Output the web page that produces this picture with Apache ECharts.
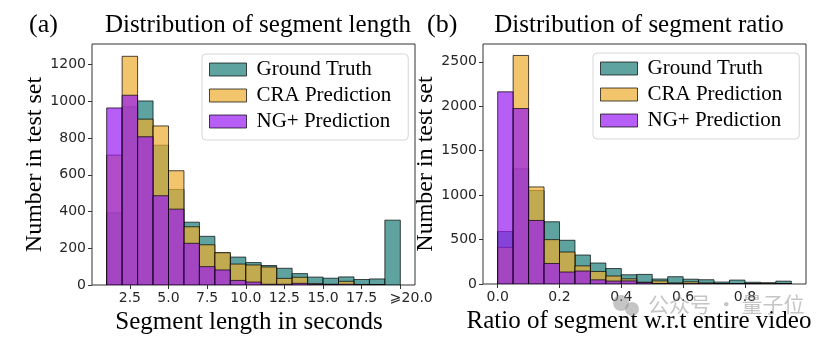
<!DOCTYPE html>
<html>
<head>
<meta charset="utf-8">
<script src="https://cdn.jsdelivr.net/npm/echarts@6/dist/echarts.min.js"></script>
<style>
html,body{margin:0;padding:0;background:#fff;}
#chart{width:832px;height:340px;}
</style>
</head>
<body>
<div id="chart"></div>
<script>
// ---------- data ----------
// (a) segment length histogram: bins [1,2),[2,3),...,[19,20) (last bin = ">=20")
const lenBinStart = [1,2,3,4,5,6,7,8,9,10,11,12,13,14,15,16,17,18,19];
const lenBinWidth = 1;
const lenGT  = [393, 970, 1002, 761, 520, 342, 265, 175, 152, 122, 106, 91, 62, 43, 37, 44, 30, 33, 353];
const lenCRA = [707, 1245, 903, 866, 622, 317, 219, 176, 114, 109, 98, 36, 42, 7, 4, 20, 3, 2, 0];
const lenNG  = [964, 1033, 807, 486, 413, 227, 100, 82, 25, 16, 4, 4, 9, 4, 2, 4, 1, 1, 0];

// (b) segment ratio histogram: bins of width 0.05 from 0 to 0.95
const ratioBinStart = [0,0.05,0.1,0.15,0.2,0.25,0.3,0.35,0.4,0.45,0.5,0.55,0.6,0.65,0.7,0.75,0.8,0.85,0.9];
const ratioBinWidth = 0.05;
const ratioGT  = [590, 1297, 1052, 700, 492, 326, 236, 174, 104, 108, 56, 82, 54, 48, 22, 44, 20, 13, 32];
const ratioCRA = [412, 2571, 1092, 499, 360, 204, 141, 90, 58, 20, 35, 12, 25, 12, 3, 5, 5, 10, 6];
const ratioNG  = [2162, 1974, 715, 231, 135, 146, 47, 33, 35, 15, 5, 3, 3, 2, 1, 2, 1, 1, 3];

// tick labels
const lenXTicks   = [2.5, 5, 7.5, 10, 12.5, 15, 17.5, 20];
const lenYTicks   = [0, 200, 400, 600, 800, 1000, 1200];
const ratioXTicks = [0, 0.2, 0.4, 0.6, 0.8];
const ratioYTicks = [0, 500, 1000, 1500, 2000, 2500];

const seriesNames = ['Ground Truth', 'CRA Prediction', 'NG+ Prediction'];
// ---------- styles ----------
const fills = ['rgba(26,124,119,0.7)', 'rgba(236,172,45,0.7)', 'rgba(151,25,242,0.7)'];
const edge = 'rgba(0,0,0,0.7)';
const serif = 'Liberation Serif';

function toRows(starts, width, vals) {
  return starts.map((s, i) => [s, s + width, vals[i]]);
}

function histSeries(name, idx, starts, width, vals, axisIdx) {
  return {
    type: 'custom',
    name: name,
    xAxisIndex: axisIdx,
    yAxisIndex: axisIdx,
    clip: true,
    itemStyle: { color: fills[idx], borderColor: edge, borderWidth: 1 },
    encode: { x: [0, 1], y: 2 },
    data: toRows(starts, width, vals),
    renderItem: function (params, api) {
      const v = api.value(2);
      if (!(v > 0)) return null;
      const p0 = api.coord([api.value(0), v]);
      const p1 = api.coord([api.value(1), 0]);
      return {
        type: 'rect',
        shape: { x: p0[0], y: p0[1], width: p1[0] - p0[0], height: p1[1] - p0[1] },
        style: { fill: fills[idx], stroke: edge, lineWidth: 1 }
      };
    }
  };
}

const tickLabelStyle = { fontFamily: 'DejaVu Sans', fontSize: 14, color: '#262626' };
const axisNameStyle = { fontFamily: serif, fontSize: 24, color: '#000' };

function legendFor(left, top) {
  return {
    orient: 'vertical',
    left: left, top: top,
    data: seriesNames,
    icon: 'rect',
    itemWidth: 37, itemHeight: 13, itemGap: 5,
    padding: [5, 17, 8, 7],
    backgroundColor: 'rgba(255,255,255,0.8)',
    borderColor: '#d6d6d6', borderWidth: 1, borderRadius: 4,
    itemStyle: { borderColor: edge, borderWidth: 1 },
    textStyle: { fontFamily: serif, fontSize: 21, color: '#000', lineHeight: 21, padding: [0, 0, 0, 5] },
    selectedMode: false
  };
}

const option = {
  backgroundColor: '#fff',
  animation: false,
  grid: [
    { left: 92, top: 44, width: 323, height: 241, show: true, borderColor: '#333', borderWidth: 1, backgroundColor: 'transparent' },
    { left: 483, top: 44, width: 323, height: 240, show: true, borderColor: '#333', borderWidth: 1, backgroundColor: 'transparent' }
  ],
  legend: [legendFor(202, 54), legendFor(593, 53)],
  xAxis: [
    {
      type: 'value', gridIndex: 0, min: 0.05, max: 20.95,
      name: 'Segment length in seconds', nameLocation: 'middle', nameGap: 19,
      nameTextStyle: Object.assign({}, axisNameStyle, { fontSize: 25, padding: [0, 9, 0, 0] }),
      axisLine: { show: false, onZero: false }, splitLine: { show: false },
      axisTick: { show: true, length: 4, customValues: lenXTicks, lineStyle: { color: '#333' } },
      axisLabel: Object.assign({}, tickLabelStyle, {
        margin: 6, customValues: lenXTicks,
        formatter: v => (v === 20 ? '{g|⩾20.0}' : v.toFixed(1)),
        rich: { g: { fontFamily: 'DejaVu Sans', fontSize: 14, color: '#262626', padding: [0, 0, 0, 22] } }
      })
    },
    {
      type: 'value', gridIndex: 1, min: -0.0475, max: 0.9975,
      name: 'Ratio of segment w.r.t entire video', nameLocation: 'middle', nameGap: 19,
      nameTextStyle: Object.assign({}, axisNameStyle, { fontSize: 25, padding: [0, 11, 0, 0] }),
      axisLine: { show: false, onZero: false }, splitLine: { show: false },
      axisTick: { show: true, length: 4, customValues: ratioXTicks, lineStyle: { color: '#333' } },
      axisLabel: Object.assign({}, tickLabelStyle, {
        margin: 6, customValues: ratioXTicks, formatter: v => v.toFixed(1)
      })
    }
  ],
  yAxis: [
    {
      type: 'value', gridIndex: 0, min: 0, max: 1312,
      name: 'Number in test set', nameLocation: 'middle', nameGap: 43,
      nameTextStyle: Object.assign({}, axisNameStyle, { padding: [0, 0, 0, 0] }),
      axisLine: { show: false, onZero: false }, splitLine: { show: false },
      axisTick: { show: true, length: 4, customValues: lenYTicks, lineStyle: { color: '#333' } },
      axisLabel: Object.assign({}, tickLabelStyle, { margin: 6, customValues: lenYTicks, formatter: v => String(v) })
    },
    {
      type: 'value', gridIndex: 1, min: 0, max: 2700,
      name: 'Number in test set', nameLocation: 'middle', nameGap: 43,
      nameTextStyle: Object.assign({}, axisNameStyle),
      axisLine: { show: false, onZero: false }, splitLine: { show: false },
      axisTick: { show: true, length: 4, customValues: ratioYTicks, lineStyle: { color: '#333' } },
      axisLabel: Object.assign({}, tickLabelStyle, { margin: 6, customValues: ratioYTicks, formatter: v => String(v) })
    }
  ],
  graphic: [
    { type: 'text', left: 29, top: 12, style: { text: '(a)', font: '26px "Liberation Serif"', fill: '#000' } },
    { type: 'text', x: 258, y: 25, style: { text: 'Distribution of segment length', font: '25px "Liberation Serif"', fill: '#000', align: 'center', verticalAlign: 'middle' } },
    { type: 'text', left: 427, top: 12, style: { text: '(b)', font: '26px "Liberation Serif"', fill: '#000' } },
    { type: 'text', x: 639, y: 25, style: { text: 'Distribution of segment ratio', font: '25px "Liberation Serif"', fill: '#000', align: 'center', verticalAlign: 'middle' } },
    { type: 'circle', shape: { cx: 621, cy: 303, r: 8 }, style: { fill: 'rgba(140,140,140,0.5)' }, z: 100 },
    { type: 'circle', shape: { cx: 632, cy: 309, r: 7 }, style: { fill: 'rgba(140,140,140,0.5)' }, z: 100 },
    { type: 'text', x: 648, y: 304, z: 100, style: { text: '公众号 · 量子位', font: '21px "Noto Sans CJK SC"', fill: 'rgba(150,150,150,0.55)', verticalAlign: 'middle' } }
  ],
  series: [
    histSeries(seriesNames[0], 0, lenBinStart, lenBinWidth, lenGT, 0),
    histSeries(seriesNames[1], 1, lenBinStart, lenBinWidth, lenCRA, 0),
    histSeries(seriesNames[2], 2, lenBinStart, lenBinWidth, lenNG, 0),
    histSeries(seriesNames[0], 0, ratioBinStart, ratioBinWidth, ratioGT, 1),
    histSeries(seriesNames[1], 1, ratioBinStart, ratioBinWidth, ratioCRA, 1),
    histSeries(seriesNames[2], 2, ratioBinStart, ratioBinWidth, ratioNG, 1)
  ]
};

const chart = echarts.init(document.getElementById('chart'), null, { renderer: 'canvas' });
chart.setOption(option);
</script>
</body>
</html>
